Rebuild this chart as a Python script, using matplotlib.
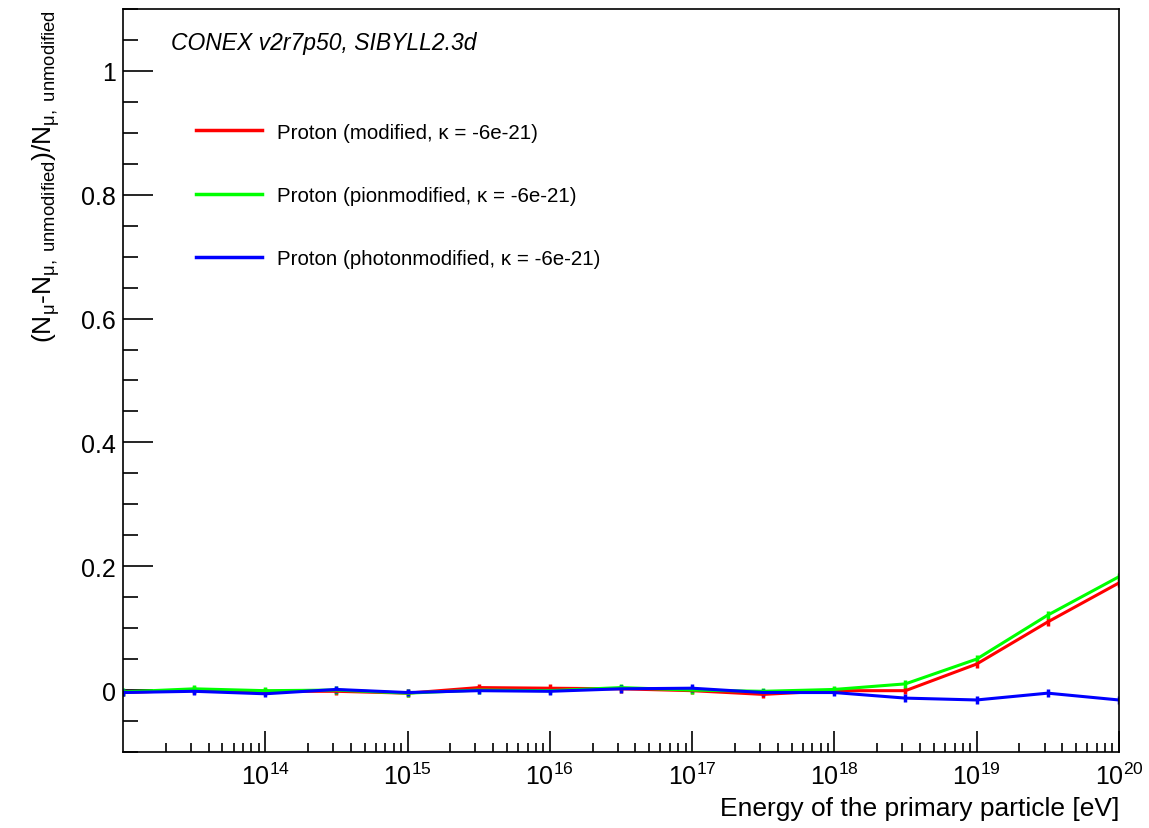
import matplotlib
matplotlib.use("Agg")
import matplotlib.pyplot as plt
from matplotlib.lines import Line2D
from matplotlib.ticker import FixedLocator, MultipleLocator, LogFormatterSciNotation, NullFormatter

plt.rcParams['font.family'] = ['Liberation Sans', 'DejaVu Sans']
plt.rcParams['mathtext.fontset'] = 'custom'
plt.rcParams['mathtext.rm'] = 'Liberation Sans'
plt.rcParams['mathtext.it'] = 'Liberation Sans:italic'
plt.rcParams['mathtext.default'] = 'regular'

# primary energy [eV], half-decade steps
energy = [1e13, 3.16e13, 1e14, 3.16e14, 1e15, 3.16e15, 1e16, 3.16e16,
          1e17, 3.16e17, 1e18, 3.16e18, 1e19, 3.16e19, 1e20]

modified = [-0.004, 0.000, -0.002, -0.002, -0.005, 0.004, 0.003, 0.002,
            -0.001, -0.007, -0.001, -0.001, 0.042, 0.110, 0.173]
pionmodified = [-0.003, 0.002, -0.001, 0.000, -0.005, 0.000, -0.001, 0.004,
                0.000, -0.002, 0.001, 0.010, 0.050, 0.121, 0.183]
photonmodified = [-0.004, -0.002, -0.006, 0.001, -0.004, -0.001, -0.002, 0.002,
                  0.003, -0.004, -0.004, -0.013, -0.016, -0.005, -0.016]
err = 0.006

labels = ['Proton (modified, κ = -6e-21)',
          'Proton (pionmodified, κ = -6e-21)',
          'Proton (photonmodified, κ = -6e-21)']
colors = ['#ff0000', '#00ff00', '#0000ff']

fig = plt.figure(figsize=(11.49, 8.29), dpi=100)
ax = fig.add_axes([0.1070, 0.0917, 0.8668, 0.8963])

for vals, lab, col in zip([modified, pionmodified, photonmodified], labels, colors):
    ax.errorbar(energy, vals, yerr=err, color=col, lw=2.2, elinewidth=2.5,
                capsize=0)

ax.set_xscale('log')
ax.set_xlim(1e13, 1e20)
ax.set_ylim(-0.1, 1.1)

ax.xaxis.set_major_locator(FixedLocator([1e14, 1e15, 1e16, 1e17, 1e18, 1e19, 1e20]))
ax.xaxis.set_major_formatter(LogFormatterSciNotation())
ax.xaxis.set_minor_locator(FixedLocator([m * 10.0**e for e in range(13, 20) for m in range(2, 10)]))
ax.xaxis.set_minor_formatter(NullFormatter())
ax.yaxis.set_minor_locator(MultipleLocator(0.05))
ax.set_yticks([0, 0.2, 0.4, 0.6, 0.8, 1.0])
ax.set_yticklabels(['0', '0.2', '0.4', '0.6', '0.8', '1'])

ax.tick_params(axis='both', which='both', direction='in', top=False, right=False,
               labelsize=18, width=1.2)
ax.tick_params(axis='y', which='major', length=21.6, pad=5)
ax.tick_params(axis='y', which='minor', length=10.8)
ax.tick_params(axis='x', which='major', length=15, pad=8)
ax.tick_params(axis='x', which='minor', length=6.5)
for s in ax.spines.values():
    s.set_linewidth(1.2)

ax.set_xlabel('Energy of the primary particle [eV]', fontsize=19, loc='right', labelpad=5)
ax.set_ylabel(r'(N$_{\mu}$-N$_{\mu,\ unmodified}$)/N$_{\mu,\ unmodified}$', fontsize=19,
              loc='top', labelpad=14)

ax.text(0.048, 0.955, 'CONEX v2r7p50, SIBYLL2.3d', transform=ax.transAxes,
        fontsize=16.5, style='italic', va='center', ha='left')

handles = [Line2D([], [], color=c, lw=2.5) for c in colors]
ax.legend(handles, labels, loc='upper left', bbox_to_anchor=(0.065, 0.858), frameon=False,
          fontsize=14.8, handlelength=3.2, handletextpad=0.75, labelspacing=2.15,
          borderaxespad=0)

fig.savefig('out.png', dpi=100)
